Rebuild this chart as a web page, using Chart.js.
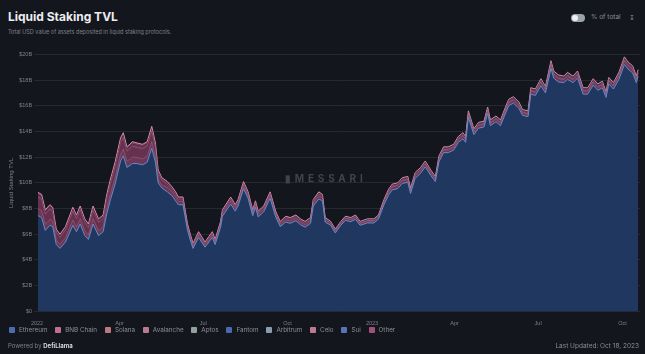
<!DOCTYPE html>
<html>
<head>
<meta charset="utf-8">
<script src="https://cdn.jsdelivr.net/npm/chart.js@4.4.0/dist/chart.umd.min.js"></script>
<style>
  body { margin: 0; background: #14161d; font-family: "Inter", "Open Sans", sans-serif; width: 645px; height: 354px; overflow: hidden; position: relative; color: #ddd; }
  .title { position: absolute; left: 8px; top: 9px; font-size: 12px; font-weight: 700; color: #eceef2; }
  .subtitle { position: absolute; left: 8px; top: 29px; font-size: 5.5px; color: #7d808a; }
  .toggle { position: absolute; left: 571px; top: 14px; width: 14px; height: 8px; border-radius: 4px; background: #9aa3a7; }
  .toggle::after { content: ""; position: absolute; left: 1px; top: 1px; width: 6px; height: 6px; border-radius: 3px; background: #f0f0f0; }
  .pct { position: absolute; left: 591px; top: 13px; font-size: 6.5px; color: #8a8d96; }
  .dl { position: absolute; left: 629px; top: 13px; font-size: 7px; color: #8a8d96; }
  #wrap { position: absolute; left: 0; top: 49px; width: 645px; height: 279px; }
  .legend { position: absolute; left: 9px; top: 326px; display: flex; font-size: 6.3px; color: #8d909a; }
  .legend span { display: flex; align-items: center; margin-right: 7.8px; }
  .legend i { display: inline-block; width: 6px; height: 6px; margin-right: 4px; border-radius: 1px; }
  .powered { position: absolute; left: 8px; top: 342px; font-size: 6px; color: #7d808a; }
  .powered b { color: #d8d9dd; font-weight: 700; }
  .updated { position: absolute; right: 6px; top: 342px; font-size: 6.5px; color: #8a8d96; }
  .wm { position: absolute; left: 285px; top: 172px; font-size: 10px; letter-spacing: 3.8px; color: #41444d; font-weight: 700; }
</style>
</head>
<body>
<div class="title">Liquid Staking TVL</div>
<div class="subtitle">Total USD value of assets deposited in liquid staking protocols.</div>
<div class="toggle"></div>
<div class="pct">% of total</div>
<div class="dl">&#8615;</div>
<div id="wrap"><canvas id="chart"></canvas></div>
<div class="wm">&#9646;MESSARI</div>
<div class="legend" id="legend"></div>
<div class="powered">Powered by <b>DefiLlama</b></div>
<div class="updated">Last Updated: Oct 18, 2023</div>
<script>
// days since 2022-01-01
const days = [
  1,5,9,14,17,21,25,31,39,43,
  47,52,56,61,67,72,76,80,85,91,
  94,98,104,109,115,120,125,129,132,136,
  142,147,151,154,159,164,167,170,176,183,
  191,194,200,202,211,216,219,225,230,235,
  238,241,247,254,260,265,271,276,282,287,
  292,298,301,307,311,314,320,325,331,336,
  342,347,352,360,367,372,378,383,387,393,
  398,404,407,412,418,423,429,434,438,443,
  448,454,459,464,467,470,476,481,487,491,
  494,500,505,511,514,519,525,529,535,538,
  543,549,554,560,563,568,574,578,584,589,
  595,600,606,611,616,620,623,628,634,640,
  644,649,653,655
]

// values in billions USD
const ethereum = [
  7.46,7.3,6.3,6.7,6.6,5.2,4.9,5.4,6.7,6.2,
  6.8,5.9,5.6,6.8,5.9,6.2,7.6,8.7,9.9,11.7,
  12.1,11.2,11.5,11.5,11.4,11.6,12.7,11.6,10.0,9.6,
  9.3,9.0,8.6,8.3,8.3,6.3,5.55,4.9,5.75,5.0,
  5.75,5.2,6.55,7.4,8.35,7.8,8.2,9.55,8.8,7.45,
  8.1,7.35,7.75,8.8,7.35,6.6,6.95,6.85,7.05,6.75,
  6.55,6.85,8.2,8.75,8.6,6.95,6.7,6.1,6.7,7.08,
  6.98,7.17,6.7,6.88,6.88,7.17,8.3,9.05,9.45,9.55,
  9.95,10.05,9.18,10.35,10.75,11.25,10.58,10.1,11.65,12.35,
  12.35,12.55,13.15,13.42,13.15,15.1,13.75,14.25,14.35,15.4,
  14.45,14.75,14.45,15.5,16.0,16.2,15.8,15.25,15.15,16.9,
  16.8,17.55,17.0,18.9,18.15,17.85,17.8,18.05,17.8,18.15,
  16.9,16.9,17.6,17.2,17.4,16.65,17.7,17.3,18.05,19.2,
  18.85,18.55,17.8,18.3
]
const bnbChain = [
  0.53,0.53,0.47,0.47,0.44,0.35,0.32,0.35,0.41,0.38,
  0.41,0.38,0.35,0.41,0.38,0.38,0.44,0.47,0.5,0.53,
  0.53,0.47,0.5,0.47,0.47,0.47,0.5,0.44,0.29,0.23,
  0.35,0.31,0.31,0.26,0.26,0.22,0.19,0.17,0.19,0.17,
  0.19,0.17,0.19,0.22,0.24,0.22,0.22,0.24,0.22,0.19,
  0.22,0.19,0.19,0.22,0.19,0.17,0.19,0.19,0.19,0.19,
  0.18,0.18,0.21,0.23,0.21,0.14,0.14,0.14,0.14,0.15,
  0.15,0.16,0.14,0.15,0.15,0.16,0.2,0.23,0.23,0.23,
  0.21,0.21,0.2,0.21,0.21,0.21,0.2,0.19,0.21,0.21,
  0.21,0.21,0.21,0.23,0.21,0.24,0.21,0.21,0.21,0.24,
  0.2,0.2,0.2,0.23,0.23,0.23,0.23,0.2,0.2,0.23,
  0.23,0.26,0.23,0.29,0.26,0.26,0.23,0.26,0.23,0.26,
  0.23,0.23,0.23,0.23,0.23,0.2,0.23,0.23,0.26,0.29,
  0.26,0.26,0.23,0.23
]
const solana = [
  0.89,0.89,0.79,0.79,0.74,0.59,0.54,0.59,0.69,0.64,
  0.69,0.64,0.59,0.69,0.64,0.64,0.74,0.79,0.84,0.89,
  0.89,0.79,0.84,0.79,0.79,0.79,0.84,0.74,0.49,0.39,
  0.23,0.2,0.2,0.17,0.17,0.14,0.13,0.11,0.13,0.11,
  0.13,0.11,0.13,0.14,0.16,0.14,0.14,0.16,0.14,0.13,
  0.14,0.13,0.13,0.14,0.13,0.11,0.13,0.13,0.13,0.13,
  0.12,0.12,0.14,0.15,0.14,0.09,0.04,0.04,0.04,0.04,
  0.04,0.04,0.04,0.04,0.04,0.04,0.05,0.06,0.06,0.06,
  0.06,0.06,0.05,0.06,0.06,0.06,0.05,0.05,0.06,0.06,
  0.06,0.06,0.06,0.06,0.06,0.07,0.06,0.06,0.06,0.07,
  0.06,0.06,0.06,0.07,0.07,0.07,0.07,0.06,0.06,0.07,
  0.07,0.07,0.07,0.08,0.07,0.07,0.07,0.07,0.07,0.07,
  0.07,0.07,0.07,0.07,0.07,0.06,0.07,0.07,0.07,0.08,
  0.07,0.07,0.07,0.07
]
const avalanche = [
  0.18,0.18,0.16,0.16,0.15,0.12,0.11,0.12,0.14,0.13,
  0.14,0.13,0.12,0.14,0.13,0.13,0.15,0.16,0.17,0.18,
  0.18,0.16,0.17,0.16,0.16,0.16,0.17,0.15,0.1,0.08,
  0.08,0.07,0.07,0.06,0.06,0.05,0.04,0.04,0.04,0.04,
  0.04,0.04,0.04,0.05,0.05,0.05,0.05,0.05,0.05,0.04,
  0.05,0.04,0.04,0.05,0.04,0.04,0.04,0.04,0.04,0.04,
  0.04,0.04,0.05,0.05,0.05,0.03,0.04,0.04,0.04,0.04,
  0.04,0.04,0.04,0.04,0.04,0.04,0.05,0.06,0.06,0.06,
  0.06,0.06,0.05,0.06,0.06,0.06,0.05,0.05,0.06,0.06,
  0.06,0.06,0.06,0.06,0.06,0.07,0.06,0.06,0.06,0.07,
  0.05,0.05,0.05,0.06,0.06,0.06,0.06,0.05,0.05,0.06,
  0.06,0.07,0.06,0.08,0.07,0.07,0.06,0.07,0.06,0.07,
  0.06,0.06,0.06,0.06,0.06,0.05,0.06,0.06,0.07,0.08,
  0.07,0.07,0.06,0.06
]
const aptos = [
  0,0,0,0,0,0,0,0,0,0,
  0,0,0,0,0,0,0,0,0,0,
  0,0,0,0,0,0,0,0,0,0,
  0,0,0,0,0,0,0,0,0,0,
  0,0,0,0,0,0,0,0,0,0,
  0,0,0,0,0,0,0,0,0,0,
  0.02,0.02,0.02,0.02,0.02,0.02,0.02,0.02,0.02,0.02,
  0.02,0.02,0.02,0.02,0.02,0.02,0.02,0.02,0.02,0.02,
  0.02,0.02,0.02,0.02,0.02,0.02,0.02,0.02,0.02,0.02,
  0.02,0.02,0.02,0.02,0.02,0.02,0.02,0.02,0.02,0.02,
  0.02,0.02,0.02,0.02,0.02,0.02,0.02,0.02,0.02,0.02,
  0.02,0.02,0.02,0.02,0.02,0.02,0.02,0.02,0.02,0.02,
  0.02,0.02,0.02,0.02,0.02,0.02,0.02,0.02,0.02,0.02,
  0.02,0.02,0.02,0.02
]
const fantom = [
  0.01,0.01,0.01,0.01,0.01,0.01,0.01,0.01,0.01,0.01,
  0.01,0.01,0.01,0.01,0.01,0.01,0.01,0.01,0.01,0.01,
  0.01,0.01,0.01,0.01,0.01,0.01,0.01,0.01,0.01,0.01,
  0.01,0.01,0.01,0.01,0.01,0.01,0.01,0.01,0.01,0.01,
  0.01,0.01,0.01,0.01,0.01,0.01,0.01,0.01,0.01,0.01,
  0.01,0.01,0.01,0.01,0.01,0.01,0.01,0.01,0.01,0.01,
  0.01,0.01,0.01,0.01,0.01,0.01,0.01,0.01,0.01,0.01,
  0.01,0.01,0.01,0.01,0.01,0.01,0.01,0.01,0.01,0.01,
  0.01,0.01,0.01,0.01,0.01,0.01,0.01,0.01,0.01,0.01,
  0.01,0.01,0.01,0.01,0.01,0.01,0.01,0.01,0.01,0.01,
  0.01,0.01,0.01,0.01,0.01,0.01,0.01,0.01,0.01,0.01,
  0.01,0.01,0.01,0.01,0.01,0.01,0.01,0.01,0.01,0.01,
  0.01,0.01,0.01,0.01,0.01,0.01,0.01,0.01,0.01,0.01,
  0.01,0.01,0.01,0.01
]
const arbitrum = [
  0,0,0,0,0,0,0,0,0,0,
  0,0,0,0,0,0,0,0,0,0,
  0,0,0,0,0,0,0,0,0,0,
  0,0,0,0,0,0,0,0,0,0,
  0,0,0,0,0,0,0,0,0,0,
  0,0,0,0,0,0,0,0,0,0,
  0,0,0,0,0,0,0,0,0,0,
  0,0,0,0,0,0,0,0,0,0,
  0.02,0.02,0.02,0.02,0.02,0.02,0.02,0.02,0.02,0.02,
  0.02,0.02,0.02,0.02,0.02,0.02,0.02,0.02,0.02,0.02,
  0.02,0.02,0.02,0.02,0.02,0.02,0.02,0.02,0.02,0.02,
  0.02,0.02,0.02,0.02,0.02,0.02,0.02,0.02,0.02,0.02,
  0.02,0.02,0.02,0.02,0.02,0.02,0.02,0.02,0.02,0.02,
  0.02,0.02,0.02,0.02
]
const celo = [
  0.01,0.01,0.01,0.01,0.01,0.01,0.01,0.01,0.01,0.01,
  0.01,0.01,0.01,0.01,0.01,0.01,0.01,0.01,0.01,0.01,
  0.01,0.01,0.01,0.01,0.01,0.01,0.01,0.01,0.01,0.01,
  0.01,0.01,0.01,0.01,0.01,0.01,0.01,0.01,0.01,0.01,
  0.01,0.01,0.01,0.01,0.01,0.01,0.01,0.01,0.01,0.01,
  0.01,0.01,0.01,0.01,0.01,0.01,0.01,0.01,0.01,0.01,
  0.01,0.01,0.01,0.01,0.01,0.01,0.01,0.01,0.01,0.01,
  0.01,0.01,0.01,0.01,0.01,0.01,0.01,0.01,0.01,0.01,
  0.01,0.01,0.01,0.01,0.01,0.01,0.01,0.01,0.01,0.01,
  0.01,0.01,0.01,0.01,0.01,0.01,0.01,0.01,0.01,0.01,
  0.01,0.01,0.01,0.01,0.01,0.01,0.01,0.01,0.01,0.01,
  0.01,0.01,0.01,0.01,0.01,0.01,0.01,0.01,0.01,0.01,
  0.01,0.01,0.01,0.01,0.01,0.01,0.01,0.01,0.01,0.01,
  0.01,0.01,0.01,0.01
]
const sui = [
  0,0,0,0,0,0,0,0,0,0,
  0,0,0,0,0,0,0,0,0,0,
  0,0,0,0,0,0,0,0,0,0,
  0,0,0,0,0,0,0,0,0,0,
  0,0,0,0,0,0,0,0,0,0,
  0,0,0,0,0,0,0,0,0,0,
  0,0,0,0,0,0,0,0,0,0,
  0,0,0,0,0,0,0,0,0,0,
  0,0,0,0,0,0,0,0,0,0,
  0,0,0,0,0,0,0,0,0,0,
  0.02,0.02,0.02,0.02,0.02,0.02,0.02,0.02,0.02,0.02,
  0.02,0.02,0.02,0.02,0.02,0.02,0.02,0.02,0.02,0.02,
  0.02,0.02,0.02,0.02,0.02,0.02,0.02,0.02,0.02,0.02,
  0.02,0.02,0.02,0.02
]
const other = [
  0.18,0.18,0.16,0.16,0.15,0.12,0.11,0.12,0.14,0.13,
  0.14,0.13,0.12,0.14,0.13,0.13,0.15,0.16,0.17,0.18,
  0.18,0.16,0.17,0.16,0.16,0.16,0.17,0.15,0.1,0.08,
  0.12,0.1,0.1,0.09,0.09,0.07,0.07,0.06,0.07,0.06,
  0.07,0.06,0.07,0.07,0.08,0.07,0.07,0.08,0.07,0.07,
  0.07,0.07,0.07,0.07,0.07,0.06,0.07,0.07,0.07,0.07,
  0.07,0.07,0.06,0.08,0.06,0.05,0.04,0.04,0.04,0.05,
  0.05,0.05,0.04,0.05,0.05,0.05,0.06,0.06,0.06,0.06,
  0.06,0.06,0.06,0.06,0.06,0.06,0.06,0.05,0.06,0.06,
  0.06,0.06,0.06,0.07,0.06,0.06,0.06,0.06,0.06,0.06,
  0.06,0.06,0.06,0.06,0.06,0.06,0.06,0.06,0.06,0.06,
  0.06,0.07,0.06,0.07,0.07,0.07,0.06,0.07,0.06,0.07,
  0.06,0.06,0.06,0.06,0.06,0.06,0.06,0.06,0.07,0.07,
  0.07,0.07,0.06,0.06
]

// x-axis tick positions (days since 2022-01-01) and labels
const tickDays = [0, 90, 181, 273, 365, 455, 546, 638]
const tickLabels = ['2022', 'Apr', 'Jul', 'Oct', '2023', 'Apr', 'Jul', 'Oct']
const yTicks = [0, 2, 4, 6, 8, 10, 12, 14, 16, 18, 20]

const series = [
  { name: 'Ethereum', values: ethereum, fill: '#203860', line: '#6a8ccc', box: '#4d6bb3', bw: 1 },
  { name: 'BNB Chain', values: bnbChain, fill: '#6e3657', line: '#b87694', box: '#c0708c', bw: 0.5 },
  { name: 'Solana', values: solana, fill: '#65314f', line: '#b07690', box: '#b87a80', bw: 0.5 },
  { name: 'Avalanche', values: avalanche, fill: '#6e3657', line: '#b87694', box: '#b87a8c', bw: 0 },
  { name: 'Aptos', values: aptos, fill: '#5c6e6a', line: '#a4b4ae', box: '#8fa39a', bw: 0 },
  { name: 'Fantom', values: fantom, fill: '#2f4a80', line: '#6d8fd0', box: '#4a6ab0', bw: 0 },
  { name: 'Arbitrum', values: arbitrum, fill: '#5b6b7d', line: '#9eb0c2', box: '#8a9cae', bw: 0 },
  { name: 'Celo', values: celo, fill: '#6e3657', line: '#b87694', box: '#c07a90', bw: 0 },
  { name: 'Sui', values: sui, fill: '#3d5590', line: '#7d98d8', box: '#5a72b8', bw: 0 },
  { name: 'Other', values: other, fill: '#7a3a60', line: '#d98aab', box: '#a0507c', bw: 1 }
]

const legend = document.getElementById('legend')
series.forEach(s => {
  const el = document.createElement('span')
  el.innerHTML = `<i style="background:${s.box}"></i>${s.name}`
  legend.appendChild(el)
})

new Chart(document.getElementById('chart'), {
  type: 'line',
  data: {
    datasets: series.map((s, i) => ({
      label: s.name,
      data: s.values.map((v, j) => ({ x: days[j], y: v })),
      backgroundColor: s.fill,
      borderColor: s.line,
      borderWidth: s.bw,
      pointRadius: 0,
      tension: 0,
      fill: i === 0 ? 'origin' : '-1'
    }))
  },
  options: {
    responsive: true,
    maintainAspectRatio: false,
    animation: false,
    layout: { padding: { left: 2, right: 5, top: 2, bottom: 0 } },
    plugins: { legend: { display: false }, tooltip: { enabled: false } },
    scales: {
      x: {
        type: 'linear',
        min: 0,
        max: 657,
        grid: { display: false },
        border: { display: false },
        afterBuildTicks: axis => { axis.ticks = tickDays.map(v => ({ value: v })) },
        ticks: {
          color: '#7d808a',
          font: { size: 5.5 },
          maxRotation: 0,
          autoSkip: false,
          padding: 1,
          callback: v => tickLabels[tickDays.indexOf(v)]
        }
      },
      y: {
        stacked: true,
        min: 0,
        max: 20,
        afterBuildTicks: axis => { axis.ticks = yTicks.map(v => ({ value: v })) },
        grid: { color: '#262932', lineWidth: 1, tickLength: 3, tickColor: '#262932' },
        border: { display: false },
        title: { display: true, text: 'Liquid Staking TVL', color: '#7d808a', font: { size: 6 }, padding: { top: 6, bottom: 2 } },
        ticks: {
          color: '#7d808a',
          font: { size: 5.5 },
          padding: 2,
          callback: v => '$' + v + (v === 0 ? '' : 'B')
        }
      }
    }
  }
})
</script>
</body>
</html>
